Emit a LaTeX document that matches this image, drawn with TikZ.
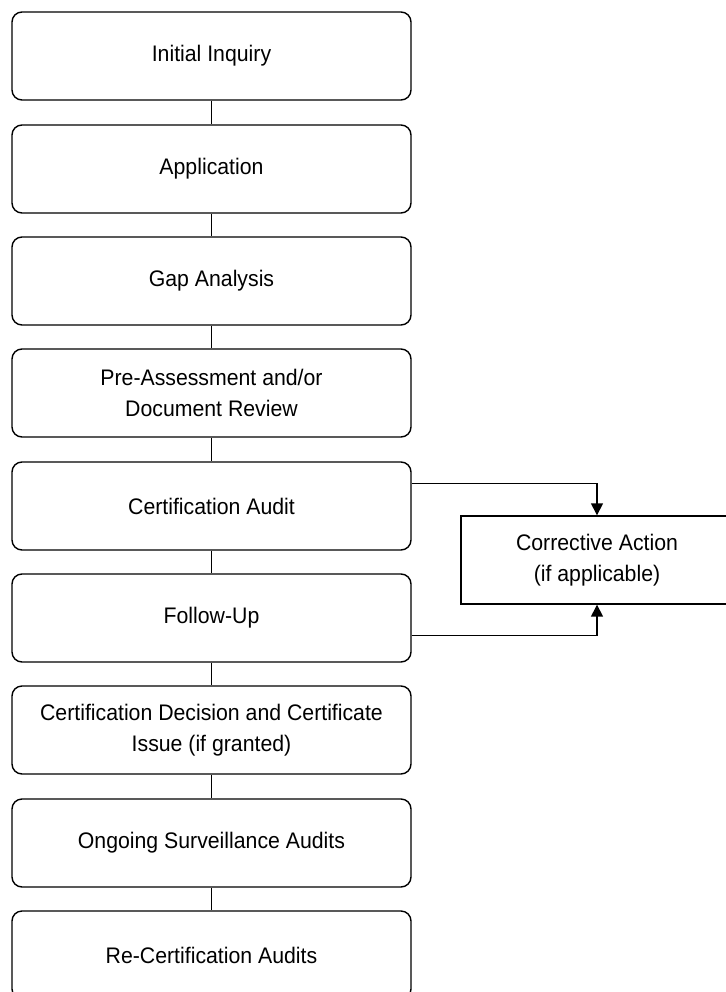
\documentclass[tikz,border=0pt]{standalone}
\usepackage{fontspec}
\setmainfont{Liberation Sans}[FakeStretch=0.945]
\usetikzlibrary{arrows.meta,calc}
\begin{document}
\begin{tikzpicture}[x=1pt,y=-1pt,
  stepbox/.style={draw, rounded corners=10pt, line width=1.4pt, minimum width=399pt, minimum height=88pt, align=center, font=\fontsize{22.5}{31}\selectfont, inner sep=0pt},
  sidebox/.style={draw, line width=1.4pt, minimum width=272pt, minimum height=88pt, align=center, font=\fontsize{22.5}{31}\selectfont, inner sep=0pt},
  link/.style={line width=1.5pt},
  arr/.style={line width=1.5pt, -{Triangle[length=12pt,width=12pt]}}]
\useasboundingbox (0,0) rectangle (725,992);
\node[stepbox] (b1) at (211.5,56) {Initial Inquiry};
\node[stepbox] (b2) at (211.5,169) {Application};
\node[stepbox] (b3) at (211.5,281) {Gap Analysis};
\node[stepbox] (b4) at (211.5,393) {Pre-Assessment and/or\\Document Review};
\node[stepbox] (b5) at (211.5,506) {Certification Audit};
\node[stepbox] (b6) at (211.5,618) {Follow-Up};
\node[stepbox] (b7) at (211.5,730) {Certification Decision and Certificate\\Issue (if granted)};
\node[stepbox] (b8) at (211.5,843) {Ongoing Surveillance Audits};
\node[stepbox] (b9) at (211.5,955) {Re-Certification Audits};
\node[sidebox] (ca) at (597,560) {Corrective Action\\(if applicable)};
\draw[link] (b1) -- (b2);
\draw[link] (b2) -- (b3);
\draw[link] (b3) -- (b4);
\draw[link] (b4) -- (b5);
\draw[link] (b5) -- (b6);
\draw[link] (b6) -- (b7);
\draw[link] (b7) -- (b8);
\draw[link] (b8) -- (b9);
\coordinate (p1) at ($(b5.north east)+(0,22)$);
\coordinate (p2) at ($(b6.north east)+(0,62)$);
\draw[arr] (p1) -| (ca.north);
\draw[arr] (p2) -| (ca.south);
\end{tikzpicture}
\end{document}
